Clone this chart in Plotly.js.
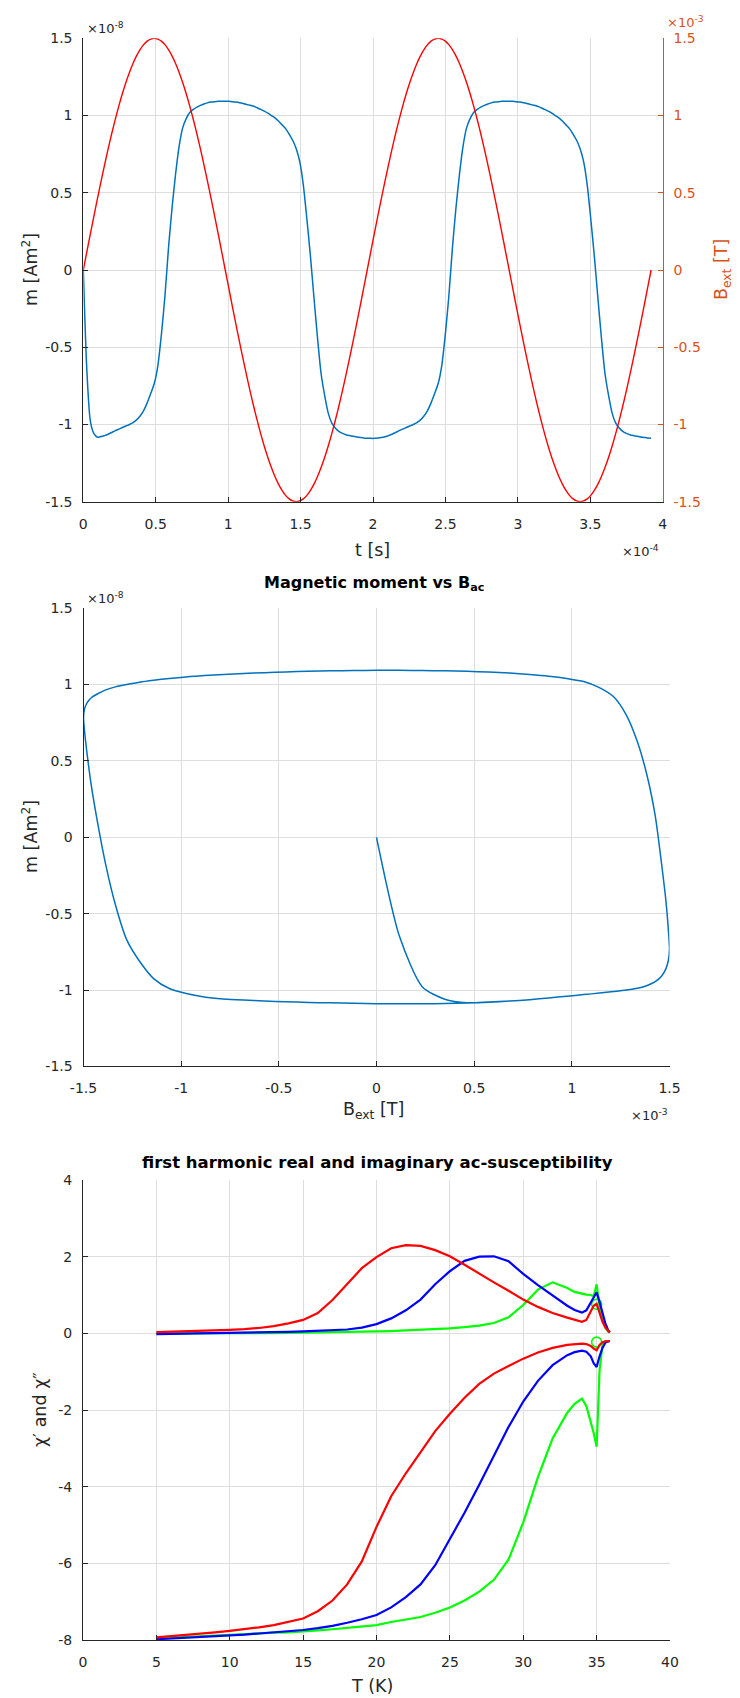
<!DOCTYPE html>
<html>
<head>
<meta charset="utf-8">
<script src="https://cdn.plot.ly/plotly-3.0.1.min.js"></script>
<style>html,body{margin:0;padding:0;background:#fff;}#plot{width:740px;height:1698px;}</style>
</head>
<body>
<div id="plot"></div>
<script>
// ---------- Panel 1 & 2 data (t in 1e-4 s, B in 1e-3 T, m in 1e-8 Am^2) ----------
const timeT = [0,0.0245,0.049,0.0735,0.098,0.1225,0.147,0.1715,0.196,0.2205,
0.245,0.2695,0.294,0.3185,0.343,0.3675,0.392,0.4165,0.441,0.4655,
0.49,0.5145,0.539,0.5635,0.588,0.6125,0.637,0.6615,0.686,0.7105,
0.735,0.7595,0.784,0.8085,0.833,0.8575,0.882,0.9065,0.931,0.9555,
0.98,1.0045,1.029,1.0535,1.078,1.1025,1.127,1.1515,1.176,1.2005,
1.225,1.2495,1.274,1.2985,1.323,1.3475,1.372,1.3965,1.421,1.4455,
1.47,1.4945,1.519,1.5435,1.568,1.5925,1.617,1.6415,1.666,1.6905,
1.715,1.7395,1.764,1.7885,1.813,1.8375,1.862,1.8865,1.911,1.9355,
1.96,1.9845,2.009,2.0335,2.058,2.0825,2.107,2.1315,2.156,2.1805,
2.205,2.2295,2.254,2.2785,2.303,2.3275,2.352,2.3765,2.401,2.4255,
2.45,2.4745,2.499,2.5235,2.548,2.5725,2.597,2.6215,2.646,2.6705,
2.695,2.7195,2.744,2.7685,2.793,2.8175,2.842,2.8665,2.891,2.9155,
2.94,2.9645,2.989,3.0135,3.038,3.0625,3.087,3.1115,3.136,3.1605,
3.185,3.2095,3.234,3.2585,3.283,3.3075,3.332,3.3565,3.381,3.4055,
3.43,3.4545,3.479,3.5035,3.528,3.5525,3.577,3.6015,3.626,3.6505,
3.675,3.6995,3.724,3.7485,3.773,3.7975,3.822,3.8465,3.871,3.8955,3.92];

const bExt = [0,0.118,0.235,0.350,0.464,0.574,0.681,0.784,0.882,0.974,
1.061,1.141,1.214,1.279,1.337,1.386,1.427,1.459,1.482,1.495,
1.5,1.495,1.482,1.459,1.427,1.386,1.337,1.279,1.214,1.141,
1.061,0.974,0.882,0.784,0.681,0.574,0.464,0.350,0.235,0.118,
0,-0.118,-0.235,-0.350,-0.464,-0.574,-0.681,-0.784,-0.882,-0.974,
-1.061,-1.141,-1.214,-1.279,-1.337,-1.386,-1.427,-1.459,-1.482,-1.495,
-1.5,-1.495,-1.482,-1.459,-1.427,-1.386,-1.337,-1.279,-1.214,-1.141,
-1.061,-0.974,-0.882,-0.784,-0.681,-0.574,-0.464,-0.350,-0.235,-0.118,
0,0.118,0.235,0.350,0.464,0.574,0.681,0.784,0.882,0.974,
1.061,1.141,1.214,1.279,1.337,1.386,1.427,1.459,1.482,1.495,
1.5,1.495,1.482,1.459,1.427,1.386,1.337,1.279,1.214,1.141,
1.061,0.974,0.882,0.784,0.681,0.574,0.464,0.350,0.235,0.118,
0,-0.118,-0.235,-0.350,-0.464,-0.574,-0.681,-0.784,-0.882,-0.974,
-1.061,-1.141,-1.214,-1.279,-1.337,-1.386,-1.427,-1.459,-1.482,-1.495,
-1.5,-1.495,-1.482,-1.459,-1.427,-1.386,-1.337,-1.279,-1.214,-1.141,
-1.061,-0.974,-0.882,-0.784,-0.681,-0.574,-0.464,-0.350,-0.235,-0.118,0];

const mMoment = [0,-0.65,-0.98,-1.06,-1.083,-1.078,-1.072,-1.063,-1.052,-1.04,
-1.03,-1.02,-1.01,-1.0,-0.988,-0.97,-0.945,-0.91,-0.86,-0.80,
-0.735,-0.62,-0.42,-0.17,0.14,0.40,0.62,0.80,0.92,0.98,
1.02,1.04,1.055,1.066,1.075,1.082,1.087,1.09,1.092,1.093,
1.093,1.092,1.09,1.087,1.083,1.078,1.072,1.066,1.06,1.05,
1.04,1.028,1.015,1.0,0.985,0.965,0.94,0.915,0.88,0.84,
0.785,0.70,0.55,0.33,0.09,-0.18,-0.44,-0.67,-0.81,-0.925,
-0.99,-1.023,-1.045,-1.058,-1.066,-1.072,-1.077,-1.081,-1.084,-1.087,
-1.089,-1.09,-1.09,-1.088,-1.085,-1.08,-1.072,-1.063,-1.052,-1.04,
-1.03,-1.02,-1.01,-1.0,-0.988,-0.97,-0.945,-0.91,-0.86,-0.80,
-0.735,-0.62,-0.42,-0.17,0.14,0.40,0.62,0.80,0.92,0.98,
1.02,1.04,1.055,1.066,1.075,1.082,1.087,1.09,1.092,1.093,
1.093,1.092,1.09,1.087,1.083,1.078,1.072,1.066,1.06,1.05,
1.04,1.028,1.015,1.0,0.985,0.965,0.94,0.915,0.88,0.84,
0.785,0.70,0.55,0.33,0.09,-0.18,-0.44,-0.67,-0.81,-0.925,
-0.99,-1.023,-1.045,-1.058,-1.066,-1.072,-1.077,-1.081,-1.084,-1.087,-1.089];

// ---------- Panel 3 data ----------
const tempK = [5,6,7,8,9,10,11,12,13,14,15,16,17,18,19,20,21,22,23,24,25,26,27,28,29,30,31,32,33,
33.5,34,34.3,34.6,34.8,35,35.2,35.4,35.6,35.8,35.9];
const redImag = [0.03,0.04,0.05,0.06,0.075,0.09,0.11,0.14,0.19,0.26,0.35,0.53,0.87,1.29,1.7,1.99,2.22,2.3,2.28,2.17,2.01,1.79,1.55,1.33,1.11,0.88,0.69,0.53,0.41,
0.36,0.3,0.35,0.58,0.72,0.77,0.52,0.3,0.15,0.05,0.02];
const blueImag = [-0.02,-0.015,-0.01,0.0,0.005,0.01,0.015,0.02,0.03,0.04,0.05,0.06,0.075,0.1,0.15,0.24,0.39,0.6,0.88,1.28,1.62,1.89,2.0,2.01,1.88,1.55,1.26,0.98,0.72,
0.61,0.54,0.6,0.8,0.96,1.07,0.82,0.55,0.25,0.07,0.03];
const greenImag = [0,0,-0.005,-0.01,-0.01,-0.005,0,0,0.005,0.01,0.015,0.02,0.025,0.03,0.04,0.05,0.06,0.075,0.09,0.11,0.13,0.16,0.2,0.27,0.42,0.74,1.14,1.33,1.18,
1.08,1.03,1.01,1.0,0.97,1.28,0.7,0.35,0.14,0.04,0.02];
const redReal = [-7.93,-7.9,-7.87,-7.84,-7.8,-7.76,-7.72,-7.67,-7.61,-7.53,-7.44,-7.25,-6.97,-6.55,-5.95,-5.05,-4.25,-3.65,-3.1,-2.55,-2.1,-1.68,-1.32,-1.05,-0.85,-0.66,-0.5,-0.38,-0.3,
-0.28,-0.27,-0.28,-0.33,-0.4,-0.44,-0.3,-0.23,-0.21,-0.2,-0.2];
const blueReal = [-7.98,-7.96,-7.94,-7.92,-7.91,-7.89,-7.86,-7.83,-7.8,-7.77,-7.74,-7.69,-7.63,-7.55,-7.46,-7.35,-7.15,-6.88,-6.55,-6.05,-5.38,-4.68,-3.95,-3.2,-2.44,-1.78,-1.24,-0.83,-0.57,
-0.49,-0.45,-0.48,-0.6,-0.78,-0.88,-0.6,-0.38,-0.24,-0.2,-0.2];
const greenReal = [-7.96,-7.94,-7.92,-7.9,-7.89,-7.87,-7.85,-7.83,-7.81,-7.8,-7.78,-7.75,-7.72,-7.68,-7.65,-7.61,-7.53,-7.46,-7.4,-7.29,-7.15,-6.97,-6.74,-6.43,-5.9,-4.93,-3.75,-2.74,-2.07,
-1.84,-1.7,-1.9,-2.3,-2.6,-2.96,-0.96,-0.3,-0.2,-0.2,-0.2];
const circleT = [35, 35];
const circleVal = [0.76, -0.23];

// ---------- tick labels ----------
const tickT = [0,0.5,1,1.5,2,2.5,3,3.5,4];
const tickTText = ['0','0.5','1','1.5','2','2.5','3','3.5','4'];
const tickPM = [-1.5,-1,-0.5,0,0.5,1,1.5];
const tickPMText = ['-1.5','-1','-0.5','0','0.5','1','1.5'];
const tickTemp = [0,5,10,15,20,25,30,35,40];
const tickTempText = ['0','5','10','15','20','25','30','35','40'];
const tickChi = [-8,-6,-4,-2,0,2,4];
const tickChiText = ['-8','-6','-4','-2','0','2','4'];

const DARK = '#262626', ORANGE = '#D95319', GRID = '#dedede';
const FONT = 'DejaVu Sans';

function ax(extra) {
  return Object.assign({
    showline: true, linecolor: DARK, linewidth: 1,
    ticks: 'inside', ticklen: 5, tickwidth: 1, tickcolor: DARK,
    showgrid: true, gridcolor: GRID, gridwidth: 1, zeroline: false,
    tickfont: {family: FONT, size: 14, color: DARK},
    tickmode: 'array', fixedrange: true, automargin: false
  }, extra);
}

const traces = [
  {x: timeT, y: mMoment, xaxis: 'x', yaxis: 'y', mode: 'lines', line: {color: '#0072BD', width: 1.5, shape: 'spline', smoothing: 0.7}},
  {x: timeT, y: bExt, xaxis: 'x', yaxis: 'y2', mode: 'lines', line: {color: '#FF0000', width: 1.4, shape: 'spline', smoothing: 0.7}},
  {x: bExt, y: mMoment, xaxis: 'x2', yaxis: 'y3', mode: 'lines', line: {color: '#0072BD', width: 1.5, shape: 'spline', smoothing: 0.7}},
  {x: circleT, y: circleVal, xaxis: 'x3', yaxis: 'y4', mode: 'markers',
   marker: {symbol: 'circle-open', size: 10, color: '#00FF00', line: {width: 1.6, color: '#00FF00'}}},
  {x: tempK, y: greenImag, xaxis: 'x3', yaxis: 'y4', mode: 'lines', line: {color: '#00FF00', width: 2.2}},
  {x: tempK, y: greenReal, xaxis: 'x3', yaxis: 'y4', mode: 'lines', line: {color: '#00FF00', width: 2.2}},
  {x: tempK, y: blueImag, xaxis: 'x3', yaxis: 'y4', mode: 'lines', line: {color: '#0000FF', width: 2.2}},
  {x: tempK, y: blueReal, xaxis: 'x3', yaxis: 'y4', mode: 'lines', line: {color: '#0000FF', width: 2.2}},
  {x: tempK, y: redImag, xaxis: 'x3', yaxis: 'y4', mode: 'lines', line: {color: '#FF0000', width: 2.2}},
  {x: tempK, y: redReal, xaxis: 'x3', yaxis: 'y4', mode: 'lines', line: {color: '#FF0000', width: 2.2}}
];

const H = 1698, W = 740;
const px = v => v / W;
const py = v => 1 - v / H;

function ann(text, x, y, opts) {
  return Object.assign({text: text, x: px(x), y: py(y), xref: 'paper', yref: 'paper',
    showarrow: false, xanchor: 'center', yanchor: 'middle',
    font: {family: FONT, size: 17.5, color: DARK}}, opts || {});
}

const layout = {
  width: W, height: H,
  margin: {l: 0, r: 0, t: 0, b: 0},
  paper_bgcolor: '#ffffff', plot_bgcolor: '#ffffff',
  showlegend: false,
  font: {family: FONT, size: 14, color: DARK},
  xaxis: ax({domain: [px(83.3), px(662.7)], anchor: 'y', range: [0, 4], tickvals: tickT, ticktext: tickTText, ticklabelstandoff: 9}),
  yaxis: ax({domain: [py(501.7), py(38.3)], anchor: 'x', range: [-1.5, 1.5], tickvals: tickPM, ticktext: tickPMText, ticklabelstandoff: 7}),
  yaxis2: ax({overlaying: 'y', side: 'right', anchor: 'x', range: [-1.5, 1.5], tickvals: tickPM, ticktext: tickPMText,
    showgrid: false, linecolor: ORANGE, tickcolor: ORANGE, tickfont: {family: FONT, size: 14, color: ORANGE}, ticklabelstandoff: 7}),
  xaxis2: ax({domain: [px(83.5), px(669.5)], anchor: 'y3', range: [-1.5, 1.5], tickvals: tickPM, ticktext: tickPMText, ticklabelstandoff: 9}),
  yaxis3: ax({domain: [py(1066.4), py(608.2)], anchor: 'x2', range: [-1.5, 1.5], tickvals: tickPM, ticktext: tickPMText, ticklabelstandoff: 7}),
  xaxis3: ax({domain: [px(83), px(670)], anchor: 'y4', range: [0, 40], tickvals: tickTemp, ticktext: tickTempText, ticklabelstandoff: 9}),
  yaxis4: ax({domain: [py(1640), py(1180)], anchor: 'x3', range: [-8, 4], tickvals: tickChi, ticktext: tickChiText, ticklabelstandoff: 7}),
  annotations: [
    ann('m [Am<sup>2</sup>]', 30, 270, {textangle: -90}),
    ann('t [s]', 373, 550),
    ann('B<sub>ext</sub> [T]', 722, 270, {textangle: -90, font: {family: FONT, size: 17.5, color: ORANGE}}),
    ann('×10<sup>-8</sup>', 85, 28, {xanchor: 'left', font: {family: FONT, size: 13, color: DARK}}),
    ann('×10<sup>-3</sup>', 665, 22, {xanchor: 'left', font: {family: FONT, size: 13, color: ORANGE}}),
    ann('×10<sup>-4</sup>', 661, 551, {xanchor: 'right', font: {family: FONT, size: 13, color: DARK}}),
    ann('<b>Magnetic moment vs B<sub>ac</sub></b>', 374, 583, {font: {family: FONT, size: 16, color: '#000000'}}),
    ann('×10<sup>-8</sup>', 85, 598, {xanchor: 'left', font: {family: FONT, size: 13, color: DARK}}),
    ann('m [Am<sup>2</sup>]', 30, 837, {textangle: -90}),
    ann('B<sub>ext</sub> [T]', 374, 1110),
    ann('×10<sup>-3</sup>', 670, 1115, {xanchor: 'right', font: {family: FONT, size: 13, color: DARK}}),
    ann('<b>first harmonic real and imaginary ac-susceptibility</b>', 377, 1162, {font: {family: FONT, size: 16.5, color: '#000000'}}),
    ann('χ′ and χ″', 40, 1410, {textangle: -90}),
    ann('T (K)', 372, 1686)
  ]
};

Plotly.newPlot('plot', traces, layout, {displayModeBar: false, staticPlot: true});
</script>
</body>
</html>
